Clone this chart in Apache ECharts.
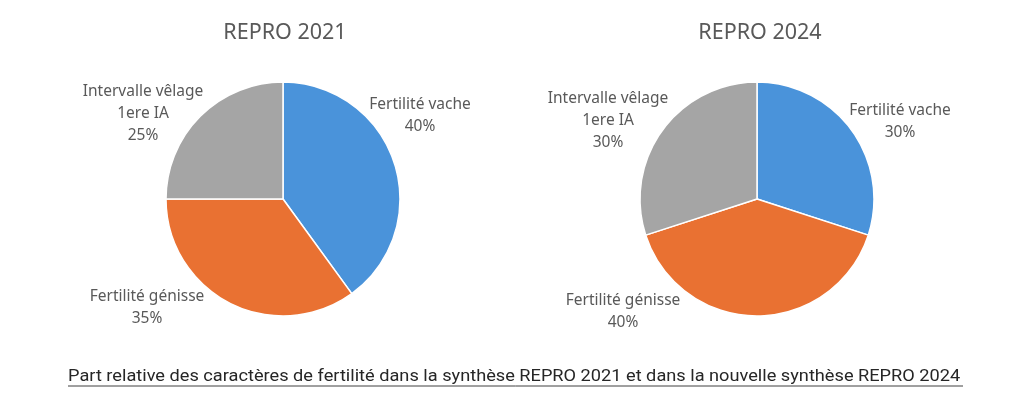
<!DOCTYPE html>
<html>
<head>
<meta charset="utf-8">
<script src="https://cdn.jsdelivr.net/npm/echarts@6/dist/echarts.min.js"></script>
<style>
  html, body { margin: 0; padding: 0; background: #fff; }
  #chart { width: 1024px; height: 403px; }
</style>
</head>
<body>
<div id="chart"></div>
<script type="application/javascript">
// data
var categories = ['Fertilité vache', 'Fertilité génisse', 'Intervalle vêlage\n1ere IA'];
var repro2021 = [40, 35, 25];
var repro2024 = [30, 40, 30];
var titles = ['REPRO 2021', 'REPRO 2024'];
var caption = 'Part relative des caractères de fertilité dans la synthèse REPRO 2021 et dans la nouvelle synthèse REPRO 2024';

var colors = ['#4A93DA', '#E97132', '#A5A5A5'];
var centers = [[283, 199], [757, 199]];
// label offsets from pie centre (Excel best-fit placement)
var labelOffsets = [
    [[137, -83], [-136, 109], [-140, -85]],
    [[143, -77], [-134, 113], [-149, -78]]
];

var myChart = echarts.init(document.getElementById('chart'));

function makeSeries(values, idx) {
    return {
        type: 'pie',
        center: centers[idx],
        radius: 117,
        startAngle: 90,
        clockwise: true,
        silent: true,
        itemStyle: {borderColor: '#fff', borderWidth: 1.5},
        label: {
            show: true,
            position: 'outside',
            formatter: function (p) { return p.name + '\n' + p.value + '%'; },
            color: '#595959',
            fontSize: 15.5,
            lineHeight: 22,
            fontFamily: 'Noto Sans',
            align: 'center'
        },
        labelLine: {show: false},
        labelLayout: function (p) {
            var o = labelOffsets[idx][p.dataIndex];
            return {
                x: centers[idx][0] + o[0],
                y: centers[idx][1] + o[1],
                align: 'center',
                verticalAlign: 'middle'
            };
        },
        data: categories.map(function (c, i) {
            return {name: c, value: values[i], itemStyle: {color: colors[i]}};
        })
    };
}

var titleStyle = {color: '#595959', fontSize: 21.5, fontWeight: 'normal', fontFamily: 'Noto Sans'};

var option = {
    animation: false,
    title: [
        {text: titles[0], left: 280, top: 17, textAlign: 'center', textStyle: titleStyle},
        {text: titles[1], left: 755, top: 17, textAlign: 'center', textStyle: titleStyle}
    ],
    graphic: [
        {type: 'text', x: 68, y: 377, scaleX: 1.07,
         style: {text: caption, fill: '#262626', fontSize: 17, align: 'left', verticalAlign: 'middle',
                 fontFamily: 'Roboto, sans-serif'}},
        {type: 'line', shape: {x1: 68, y1: 386, x2: 963, y2: 386},
         style: {stroke: '#404040', lineWidth: 1}}
    ],
    series: [makeSeries(repro2021, 0), makeSeries(repro2024, 1)]
};
myChart.setOption(option);
</script>
</body>
</html>
